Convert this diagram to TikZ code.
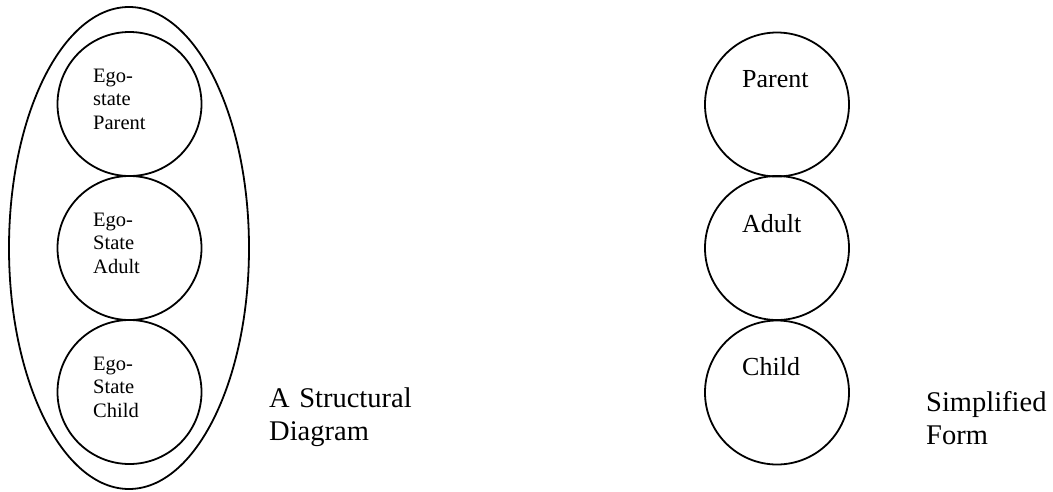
\documentclass[tikz,border=0pt]{standalone}
\usepackage{fontspec}
\setmainfont{Liberation Serif}
\usetikzlibrary{shapes.geometric}
\tikzset{
  line/.style={draw=black, line width=1.8pt},
  state/.style={line, circle, minimum size=144pt, inner sep=0pt},
  outer/.style={line, ellipse, minimum width=240pt, minimum height=482pt, inner sep=0pt},
  smalltxt/.style={anchor=base west, inner sep=0pt, text width=70pt, align=left, font=\fontsize{20.5}{23.5}\selectfont},
  midtxt/.style={anchor=base west, inner sep=0pt, font=\fontsize{26}{30}\selectfont},
  bigtxt/.style={anchor=base west, inner sep=0pt, text width=220pt, align=left, font=\fontsize{28.5}{33}\selectfont}
}
\begin{document}
\begin{tikzpicture}[x=1pt, y=-1pt]
\useasboundingbox (0,0) rectangle (1053,491);
% structural diagram
\node[outer] (ell) at (129,248) {};
\node[state] (pe) at (129.5,104) {};
\node[state] (ae) at (129.5,248) {};
\node[state] (ce) at (129.5,392) {};
\node[smalltxt] (pet) at (93,82) {Ego-\\state\\Parent};
\node[smalltxt] (aet) at (93,226) {Ego-\\State\\Adult};
\node[smalltxt] (cet) at (93,370) {Ego-\\State\\Child};
\node[bigtxt] (lab1) at (269,407) {A Structural\\Diagram};
% simplified form
\node[state] (p) at (777,104.5) {};
\node[state] (a) at (777,248) {};
\node[state] (c) at (777,392.5) {};
\node[midtxt] (pt) at (742,87) {Parent};
\node[midtxt] (at) at (742,232) {Adult};
\node[midtxt] (ct) at (742,375) {Child};
\node[bigtxt] (lab2) at (926,411) {Simplified\\Form};
\end{tikzpicture}
\end{document}
